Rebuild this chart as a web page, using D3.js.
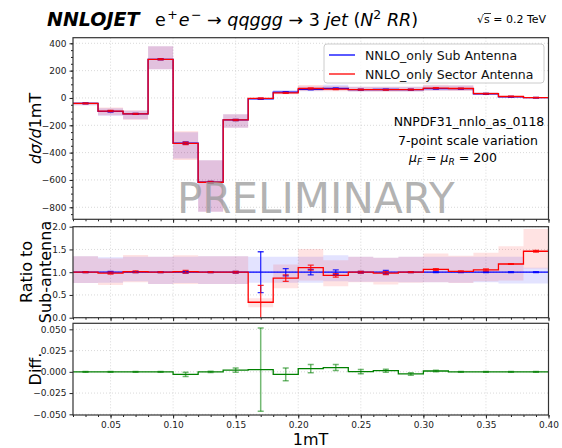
<!DOCTYPE html>
<html lang="en">
<head>
<meta charset="utf-8">
<title>NNLOJET ratio plot</title>
<script src="https://cdn.jsdelivr.net/npm/d3@7"></script>
<style>
  body { margin: 0; background: #fff; }
  svg text { font-family: "DejaVu Sans", sans-serif; }
  .axis path { display: none; }
  .axis line { stroke: #222; }
  .axis text { font-size: 9px; fill: #222; }
  .grid line { stroke: #cfcfcf; stroke-width: 0.8; stroke-dasharray: 1,2; }
</style>
</head>
<body>
<script>
// bin edges 0.02 .. 0.40, width 0.02
var binEdges = [0.02,0.04,0.06,0.08,0.10,0.12,0.14,0.16,0.18,0.20,0.22,0.24,0.26,0.28,0.30,0.32,0.34,0.36,0.38,0.40];

// dsigma/d1mT, central values
var subVals    = [-40,-98,-116,283,-330,-617,-161,-7,43,63,70,61,62,61,68,68,30,9,2];
var sectorVals = [-40,-96,-117,283,-333,-617,-161,-2.4,37.4,69.3,65.1,61,60.8,61,72.1,69.4,31.5,10.6,2.9];
var subErr     = [3,4,3,4,8,6,4,3,3,3,3,3,2,2,2,2,2,2,1];
var sectorErr  = [3,4,3,4,8,6,4,3,3,3,3,3,2,2,2,2,2,2,1];

// ratio to Sub antenna
var ratioVals   = [1.0,0.98,1.01,1.0,1.01,1.0,1.0,0.34,0.87,1.10,0.93,1.0,0.98,1.0,1.06,1.02,1.05,1.18,1.46];
var subRatioErr = [0.01,0.02,0.01,0.01,0.02,0.01,0.02,0.45,0.08,0.06,0.05,0.02,0.04,0.01,0.01,0.01,0.01,0.01,0.01];
var secRatioErr = [0.01,0.02,0.02,0.01,0.03,0.01,0.02,0.37,0.07,0.055,0.04,0.02,0.03,0.01,0.02,0.01,0.02,0.01,0.02];

// 7-point scale variation bands, relative to Sub central
var subBandLo = [0.765,0.77,0.80,0.74,0.76,0.74,0.74,0.77,0.77,0.77,0.80,0.79,0.79,0.78,0.78,0.77,0.78,0.75,0.75];
var subBandHi = [1.35,1.33,1.34,1.34,1.34,1.35,1.35,1.34,1.34,1.34,1.375,1.34,1.32,1.34,1.34,1.34,1.34,1.34,1.10];
var secBandLo = [0.765,0.72,0.78,0.74,0.74,0.74,0.74,0.23,0.65,0.82,0.69,0.78,0.73,0.77,0.78,0.76,0.80,0.82,1.08];
var secBandHi = [1.35,1.30,1.38,1.34,1.375,1.35,1.35,0.43,1.17,1.51,1.26,1.34,1.32,1.34,1.41,1.36,1.43,1.57,1.95];

// difference panel
var diffVals = [0,0,0,0,-0.003,0,0.002,0.0026,-0.003,0.0037,0.005,0.0002,0.0013,-0.0025,0.001,0,0,0,0];
var diffErr  = [0.0005,0.0005,0.0005,0.0005,0.0025,0.0008,0.0025,0.049,0.0075,0.0048,0.0035,0.0025,0.0018,0.0015,0.0008,0.0005,0.0005,0.0005,0.0005];

var xTicks = [0.05,0.10,0.15,0.20,0.25,0.30,0.35,0.40];
var topTicks = [-800,-600,-400,-200,0,200,400];
var midTicks = [0,0.5,1.0,1.5,2.0];
var botTicks = [-0.05,-0.025,0,0.025,0.05];

var w = 562, h = 448;
var blue = "#0000ff", red = "#ff0000", green = "#008000";

var svg = d3.select("body").append("svg")
  .attr("width", w).attr("height", h);

var x = d3.scaleLinear().domain([0.02, 0.40]).range([73, 548.5]);

var panels = [
  { name: "top", y: d3.scaleLinear().domain([-888, 441]).range([219.3, 37.7]), ticks: topTicks, fmt: d3.format("d"), minor: d3.range(-850, 441, 50) },
  { name: "mid", y: d3.scaleLinear().domain([0, 2]).range([317.7, 226.7]), ticks: midTicks, fmt: d3.format(".1f"), minor: [] },
  { name: "bot", y: d3.scaleLinear().domain([-0.0508, 0.0571]).range([415, 323.3]), ticks: botTicks, fmt: d3.format(".3f"), minor: [] }
];

var minorX = d3.range(0.02, 0.4001, 0.01);
var centers = binEdges.slice(0, -1).map(function(e, i) { return (e + binEdges[i + 1]) / 2; });

panels.forEach(function(p) {
  var y0 = p.y.range()[0], y1 = p.y.range()[1];
  p.g = svg.append("g");
  svg.append("clipPath").attr("id", "clip-" + p.name)
    .append("rect").attr("x", x.range()[0]).attr("y", y1)
    .attr("width", x.range()[1] - x.range()[0]).attr("height", y0 - y1);

  // grid
  p.g.append("g").attr("class", "grid")
    .selectAll("line.gx").data(xTicks).enter().append("line")
    .attr("x1", function(d) { return x(d); }).attr("x2", function(d) { return x(d); })
    .attr("y1", y1).attr("y2", y0);
  p.g.append("g").attr("class", "grid")
    .selectAll("line.gy").data(p.ticks).enter().append("line")
    .attr("x1", x.range()[0]).attr("x2", x.range()[1])
    .attr("y1", function(d) { return p.y(d); }).attr("y2", function(d) { return p.y(d); });

  p.plot = p.g.append("g").attr("clip-path", "url(#clip-" + p.name + ")");

  // axes
  var xAxis = d3.axisBottom(x).tickValues(xTicks).tickSize(3.5).tickPadding(3)
    .tickFormat(p.name == "bot" ? d3.format(".2f") : "");
  var xMinor = d3.axisBottom(x).tickValues(minorX).tickSize(2).tickFormat("");
  svg.append("g").attr("class", "axis").attr("transform", "translate(0," + y0 + ")").call(xMinor);
  svg.append("g").attr("class", "axis").attr("transform", "translate(0," + y0 + ")").call(xAxis);

  var yAxis = d3.axisLeft(p.y).tickValues(p.ticks).tickSize(3.5).tickPadding(3).tickFormat(p.fmt);
  svg.append("g").attr("class", "axis").attr("transform", "translate(" + x.range()[0] + ",0)").call(yAxis);
  if (p.minor.length) {
    var yMinor = d3.axisLeft(p.y).tickValues(p.minor).tickSize(2).tickFormat("");
    svg.append("g").attr("class", "axis").attr("transform", "translate(" + x.range()[0] + ",0)").call(yMinor);
  }
});

function stepLine(y, vals) {
  var pts = vals.map(function(v, i) { return [binEdges[i], v]; });
  pts.push([binEdges[binEdges.length - 1], vals[vals.length - 1]]);
  return d3.line().curve(d3.curveStepAfter)
    .x(function(d) { return x(d[0]); }).y(function(d) { return y(d[1]); })(pts);
}

function stepBand(y, lo, hi) {
  var pts = lo.map(function(v, i) { return [binEdges[i], v, hi[i]]; });
  pts.push([binEdges[binEdges.length - 1], lo[lo.length - 1], hi[hi.length - 1]]);
  return d3.area().curve(d3.curveStepAfter)
    .x(function(d) { return x(d[0]); })
    .y0(function(d) { return y(d[1]); }).y1(function(d) { return y(d[2]); })(pts);
}

function errorBars(g, y, vals, errs, color, op, sw) {
  var eb = g.append("g").attr("stroke", color).attr("stroke-opacity", op).attr("stroke-width", sw);
  vals.forEach(function(v, i) {
    var cx = x(centers[i]), ya = y(v - errs[i]), yb = y(v + errs[i]);
    eb.append("line").attr("x1", cx).attr("x2", cx).attr("y1", ya).attr("y2", yb);
    eb.append("line").attr("x1", cx - 3).attr("x2", cx + 3).attr("y1", ya).attr("y2", ya);
    eb.append("line").attr("x1", cx - 3).attr("x2", cx + 3).attr("y1", yb).attr("y2", yb);
  });
}

// ---- top panel ----
var topP = panels[0];
var tSubLo = subVals.map(function(v, i) { return Math.min(v * subBandLo[i], v * subBandHi[i]); });
var tSubHi = subVals.map(function(v, i) { return Math.max(v * subBandLo[i], v * subBandHi[i]); });
var tSecLo = subVals.map(function(v, i) { return Math.min(v * secBandLo[i], v * secBandHi[i]); });
var tSecHi = subVals.map(function(v, i) { return Math.max(v * secBandLo[i], v * secBandHi[i]); });
topP.plot.append("path").attr("d", stepBand(topP.y, tSubLo, tSubHi)).attr("fill", blue).attr("fill-opacity", 0.13);
topP.plot.append("path").attr("d", stepBand(topP.y, tSecLo, tSecHi)).attr("fill", red).attr("fill-opacity", 0.13);
topP.plot.append("path").attr("d", stepLine(topP.y, subVals)).attr("fill", "none").attr("stroke", blue).attr("stroke-width", 1.3);
topP.plot.append("path").attr("d", stepLine(topP.y, sectorVals)).attr("fill", "none").attr("stroke", red).attr("stroke-width", 1.3);
errorBars(topP.plot, topP.y, subVals, subErr, blue, 0.8, 1.5);
errorBars(topP.plot, topP.y, sectorVals, sectorErr, red, 0.8, 1.5);

// ---- ratio panel ----
var midP = panels[1];
var ones = subVals.map(function() { return 1; });
midP.plot.append("path").attr("d", stepBand(midP.y, subBandLo, subBandHi)).attr("fill", blue).attr("fill-opacity", 0.11);
midP.plot.append("path").attr("d", stepBand(midP.y, secBandLo, secBandHi)).attr("fill", red).attr("fill-opacity", 0.11);
midP.plot.append("path").attr("d", stepLine(midP.y, ones)).attr("fill", "none").attr("stroke", blue).attr("stroke-width", 1.3);
midP.plot.append("path").attr("d", stepLine(midP.y, ratioVals)).attr("fill", "none").attr("stroke", red).attr("stroke-width", 1.3);
errorBars(midP.plot, midP.y, ones, subRatioErr, blue, 0.8, 1.3);
errorBars(midP.plot, midP.y, ratioVals, secRatioErr, red, 0.8, 1.3);

// ---- diff panel ----
var botP = panels[2];
botP.plot.append("path").attr("d", stepLine(botP.y, diffVals)).attr("fill", "none").attr("stroke", green).attr("stroke-width", 1.3);
errorBars(botP.plot, botP.y, diffVals, diffErr, green, 0.55, 1.5);

// frames
panels.forEach(function(p) {
  svg.append("rect").attr("x", x.range()[0]).attr("y", p.y.range()[1])
    .attr("width", x.range()[1] - x.range()[0]).attr("height", p.y.range()[0] - p.y.range()[1])
    .attr("fill", "none").attr("stroke", "#333").attr("stroke-width", 1.2);
});

// watermark
svg.append("text").attr("x", 177).attr("y", 213)
  .attr("font-size", 42).attr("fill", "#9a9a9a").attr("fill-opacity", 0.75)
  .text("PRELIMINARY");

// legend
var lg = svg.append("g");
lg.append("rect").attr("x", 324).attr("y", 44).attr("width", 220).attr("height", 39).attr("rx", 3)
  .attr("fill", "#fff").attr("fill-opacity", 0.8).attr("stroke", "#ccc");
var legendItems = [["NNLO_only Sub Antenna", blue], ["NNLO_only Sector Antenna", red]];
legendItems.forEach(function(d, i) {
  var yy = 55 + i * 19;
  lg.append("line").attr("x1", 329).attr("x2", 355).attr("y1", yy).attr("y2", yy)
    .attr("stroke", d[1]).attr("stroke-width", 1.3);
  lg.append("text").attr("x", 365).attr("y", yy + 4.5).attr("font-size", 12.5).attr("fill", "#111").text(d[0]);
});

// annotation
svg.append("text").attr("x", 469).attr("y", 126).attr("text-anchor", "middle").attr("font-size", 12.5).text("NNPDF31_nnlo_as_0118");
svg.append("text").attr("x", 468).attr("y", 145).attr("text-anchor", "middle").attr("font-size", 12.5).text("7-point scale variation");
var mu = svg.append("text").attr("x", 453).attr("y", 162).attr("text-anchor", "middle").attr("font-size", 12.5);
mu.append("tspan").attr("font-style", "italic").text("μ");
mu.append("tspan").attr("font-style", "italic").attr("font-size", 9).attr("dy", 2.5).text("F");
mu.append("tspan").attr("dy", -2.5).text(" = ");
mu.append("tspan").attr("font-style", "italic").text("μ");
mu.append("tspan").attr("font-style", "italic").attr("font-size", 9).attr("dy", 2.5).text("R");
mu.append("tspan").attr("dy", -2.5).text(" = 200");

// title
svg.append("text").attr("x", 47).attr("y", 26).attr("font-size", 19)
  .attr("font-weight", "bold").attr("font-style", "italic").text("NNLOJET");
var t = svg.append("text").attr("x", 155).attr("y", 26).attr("font-size", 17.5);
t.append("tspan").text("e");
t.append("tspan").attr("font-size", 12.5).attr("dx", 1.5).attr("dy", -7.5).text("+");
t.append("tspan").attr("dx", 1).attr("dy", 7.5).attr("font-style", "italic").text("e");
t.append("tspan").attr("font-size", 12.5).attr("dx", 1.5).attr("dy", -7.5).text("−");
t.append("tspan").attr("dy", 7.5).text(" → ");
t.append("tspan").attr("font-style", "italic").text("qqggg");
t.append("tspan").text(" → 3 ");
t.append("tspan").attr("font-style", "italic").text("jet");
t.append("tspan").text(" (");
t.append("tspan").attr("font-style", "italic").text("N");
t.append("tspan").attr("font-size", 12.5).attr("dy", -7.5).text("2");
t.append("tspan").attr("dy", 7.5).text(" ");
t.append("tspan").attr("font-style", "italic").text("RR");
t.append("tspan").text(")");

svg.append("text").attr("x", 477).attr("y", 23).attr("font-size", 11).text("√s = 0.2 TeV");
svg.append("line").attr("x1", 484).attr("x2", 491).attr("y1", 13.5).attr("y2", 13.5).attr("stroke", "#000").attr("stroke-width", 0.8);

// axis labels
var yl = svg.append("text").attr("transform", "translate(41,128.5) rotate(-90)")
  .attr("text-anchor", "middle").attr("font-size", 16);
yl.append("tspan").attr("font-style", "italic").text("dσ/d");
yl.append("tspan").text("1mT");

svg.append("text").attr("transform", "translate(32,272) rotate(-90)")
  .attr("text-anchor", "middle").attr("font-size", 16).text("Ratio to");
svg.append("text").attr("transform", "translate(51,272) rotate(-90)")
  .attr("text-anchor", "middle").attr("font-size", 16).text("Sub-antenna");
svg.append("text").attr("transform", "translate(41,369) rotate(-90)")
  .attr("text-anchor", "middle").attr("font-size", 16).text("Diff.");

svg.append("text").attr("x", 310.5).attr("y", 445).attr("text-anchor", "middle")
  .attr("font-size", 16).text("1mT");
</script>
</body>
</html>
